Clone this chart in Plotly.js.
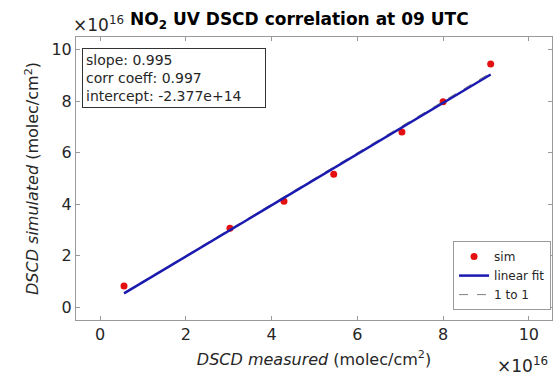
<!DOCTYPE html>
<html>
<head>
<meta charset="utf-8">
<script src="https://cdn.plot.ly/plotly-3.0.1.min.js"></script>
<style>
  html, body { margin: 0; padding: 0; background: #fff; }
  #chart { width: 555px; height: 381px; }
</style>
</head>
<body>
<div id="chart"></div>
<script>
// NO2 UV slant columns, in units of 1e16 molec/cm^2
const measured  = [0.56, 3.03, 4.29, 5.45, 7.04, 8.00, 9.11];
const simulated = [0.82, 3.07, 4.12, 5.17, 6.81, 7.98, 9.45];

// Regression statistics
const slope = 0.995;
const corrCoeff = 0.997;
const intercept = -2.377e14;
const scale = 1e16;

const tickValues = [0, 2, 4, 6, 8, 10];
const tickLabels = ['0', '2', '4', '6', '8', '10'];

const xMin = Math.min(...measured);
const xMax = Math.max(...measured);
const fitX = [xMin, xMax];
const fitY = fitX.map(v => slope * v + intercept / scale);

const font = 'DejaVu Sans, sans-serif';
const axisColor = '#262626';
const frameColor = '#9a9a9a';

const traces = [
  {
    x: measured, y: simulated, type: 'scatter', mode: 'markers', name: 'sim',
    marker: { color: '#e41010', size: 7 }, legendrank: 1
  },
  {
    x: fitX, y: fitX, type: 'scatter', mode: 'lines', name: '1 to 1',
    line: { color: '#808080', width: 1, dash: 'dash' }, legendrank: 3
  },
  {
    x: fitX, y: fitY, type: 'scatter', mode: 'lines', name: 'linear fit',
    line: { color: '#1a1ab0', width: 2.5 }, legendrank: 2
  }
];

const axisCommon = {
  tickvals: tickValues, ticktext: tickLabels,
  ticks: 'inside', ticklen: 4, tickcolor: frameColor,
  showline: true, linecolor: frameColor, linewidth: 1, mirror: 'ticks',
  showgrid: false, zeroline: false,
  tickfont: { family: font, size: 16, color: axisColor }
};

const layout = {
  width: 555, height: 381,
  margin: { l: 76, r: 3, t: 37, b: 61 },
  paper_bgcolor: '#fff', plot_bgcolor: '#fff',
  showlegend: true,
  legend: {
    x: 0.998, y: 0.035, xanchor: 'right', yanchor: 'bottom',
    traceorder: 'normal',
    bgcolor: '#fff', bordercolor: '#9a9a9a', borderwidth: 1,
    font: { family: font, size: 12, color: axisColor },
    tracegroupgap: 0, itemwidth: 30
  },
  xaxis: Object.assign({}, axisCommon, {
    range: [-0.56, 10.54],
    title: {
      text: '<i>DSCD measured</i> (molec/cm<sup>2</sup>)',
      font: { family: font, size: 16, color: axisColor }, standoff: 10
    }
  }),
  yaxis: Object.assign({}, axisCommon, {
    range: [-0.5, 10.5],
    title: {
      text: '<i>DSCD simulated</i> (molec/cm<sup>2</sup>)',
      font: { family: font, size: 16, color: axisColor }, standoff: 8
    }
  }),
  annotations: [
    {
      text: '<b>NO<sub>2</sub> UV DSCD correlation at 09 UTC</b>',
      xref: 'paper', yref: 'paper', x: 0.47, y: 1.0, yanchor: 'bottom', yshift: 3,
      showarrow: false, font: { family: font, size: 17, color: '#000' }
    },
    {
      text: '×10<sup>16</sup>',
      xref: 'paper', yref: 'paper', x: -0.01, y: 1.0, xanchor: 'left', yanchor: 'bottom',
      showarrow: false, font: { family: font, size: 17, color: axisColor }
    },
    {
      text: '×10<sup>16</sup>',
      xref: 'paper', yref: 'paper', x: 0.995, y: -0.16, xanchor: 'right', yanchor: 'middle',
      showarrow: false, font: { family: font, size: 17, color: axisColor }
    },
    {
      text: 'slope: ' + slope.toFixed(3) + '<br>corr coeff: ' + corrCoeff.toFixed(3) +
            '<br>intercept: ' + intercept.toExponential(3),
      xref: 'paper', yref: 'paper', x: 0.013, y: 0.96, xanchor: 'left', yanchor: 'top',
      align: 'left', showarrow: false, width: 176, height: 52,
      bordercolor: '#333', borderwidth: 1, borderpad: 3, bgcolor: '#fff',
      font: { family: font, size: 14, color: axisColor }
    }
  ]
};

Plotly.newPlot('chart', traces, layout, { displayModeBar: false, staticPlot: true });
</script>
</body>
</html>
